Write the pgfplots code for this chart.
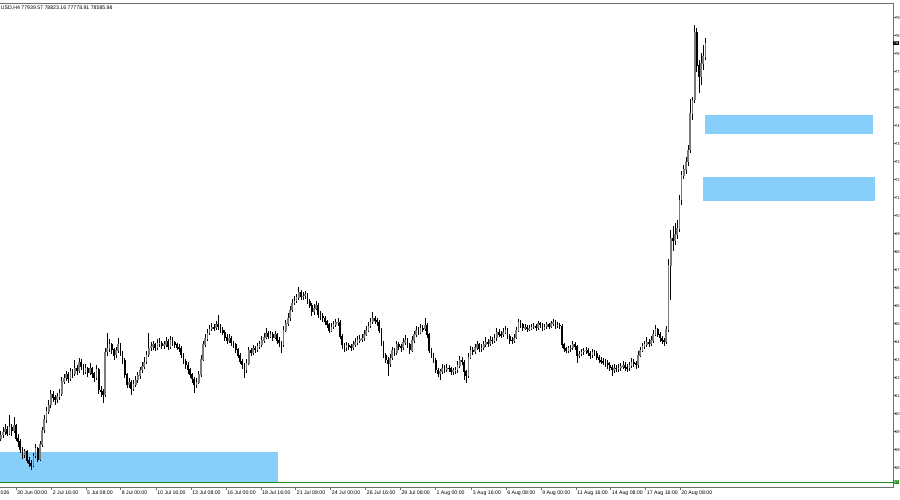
\documentclass[border=0pt]{standalone}
\usepackage{fontspec}
\setmainfont{Liberation Sans}
\usepackage{pgfplots}
\usepackage{pgfplotstable}
\pgfplotsset{compat=1.18}
\definecolor{zone}{HTML}{87CEFA}
\definecolor{lvl}{HTML}{1E8C1E}
\definecolor{frame}{HTML}{6E6E6E}
\definecolor{bull}{HTML}{7A7A7A}
\newcommand{\tf}{\fontsize{3.9}{4.4}\selectfont}
\newcommand{\pf}{\fontsize{3.1}{3.6}\selectfont}

% H4 candles, prices in thousands, i = bar index (0 = 30 Jun 00:00)
\pgfplotstableread{
i o h l c
-7 59.60 59.95 59.45 59.76
-6 59.76 60.15 59.60 59.90
-5 59.90 60.30 59.75 60.05
-4 60.05 60.20 59.70 59.85
-3 59.85 60.72 59.75 60.10
-2 60.10 60.30 59.70 59.95
-1 59.95 60.60 59.85 60.20
0 60.20 60.30 59.45 59.60
1 59.60 59.80 59.20 59.45
2 59.45 59.55 58.90 59.05
3 59.05 59.20 58.60 58.80
4 58.80 59.10 58.65 58.95
5 58.95 59.05 58.40 58.55
6 58.55 58.70 58.20 58.40
7 58.40 58.55 58.08 58.30
8 58.30 58.90 58.20 58.75
9 58.75 59.35 58.65 59.10
10 59.10 59.20 58.45 58.60
11 58.60 59.45 58.50 59.30
12 59.30 60.15 59.20 60.00
13 60.00 60.70 59.85 60.50
14 60.50 61.10 60.35 60.90
15 60.90 61.45 60.75 61.20
16 61.20 61.90 61.05 61.70
17 61.70 61.85 61.35 61.55
18 61.55 61.70 61.20 61.45
19 61.45 61.80 61.30 61.60
20 61.60 61.95 61.45 61.75
21 61.75 62.55 61.65 62.35
22 62.35 62.70 62.20 62.50
23 62.50 62.85 62.35 62.65
24 62.65 62.80 62.25 62.45
25 62.45 63.00 62.35 62.80
26 62.80 62.95 62.50 62.70
27 62.70 63.35 62.60 62.98
28 62.98 63.10 62.65 62.85
29 62.85 63.45 62.75 63.25
30 63.25 63.40 62.90 63.05
31 63.05 63.15 62.65 62.80
32 62.80 63.15 62.70 62.95
33 62.95 63.05 62.55 62.75
34 62.75 63.20 62.65 62.98
35 62.98 63.05 62.50 62.70
36 62.70 62.80 62.30 62.50
37 62.50 63.10 62.40 62.90
38 62.90 63.00 61.75 61.92
39 61.92 62.10 61.60 61.85
40 61.85 61.95 61.30 61.70
41 61.70 63.95 61.60 63.75
42 63.75 64.66 63.55 63.90
43 63.90 64.35 63.75 64.10
44 64.10 64.20 63.65 63.85
45 63.85 63.95 63.35 63.60
46 63.60 64.00 63.45 63.80
47 63.80 64.40 63.70 64.10
48 64.10 64.20 63.55 63.70
49 63.70 63.80 63.15 63.36
50 63.36 63.45 62.50 62.65
51 62.65 62.75 62.00 62.16
52 62.16 62.50 62.00 62.30
53 62.30 62.40 61.70 62.00
54 62.00 62.40 61.85 62.20
55 62.20 62.60 62.05 62.40
56 62.40 62.80 62.25 62.60
57 62.60 63.05 62.45 62.88
58 62.88 63.25 62.75 63.05
59 63.05 63.50 62.95 63.27
60 63.27 63.80 63.15 63.60
61 63.60 64.66 63.50 63.94
62 63.94 64.25 63.80 64.00
63 64.00 64.30 63.85 64.10
64 64.10 64.20 63.80 63.95
65 63.95 64.35 63.85 64.15
66 64.15 64.40 64.00 64.18
67 64.18 64.30 63.90 64.05
68 64.05 64.30 63.90 64.10
69 64.10 64.45 64.00 64.25
70 64.25 64.35 63.85 64.00
71 64.00 64.50 63.90 64.32
72 64.32 64.45 64.05 64.20
73 64.20 64.30 63.95 64.10
74 64.10 64.20 63.85 63.98
75 63.98 64.15 63.75 63.94
76 63.94 64.05 63.45 63.60
77 63.60 63.70 63.15 63.30
78 63.30 63.40 62.95 63.12
79 63.12 63.25 62.70 62.90
80 62.90 63.00 62.50 62.65
81 62.65 62.75 62.25 62.45
82 62.45 62.55 61.80 62.16
83 62.16 62.50 62.00 62.30
84 62.30 62.85 62.20 62.65
85 62.65 63.60 62.55 63.40
86 63.40 64.30 63.30 64.10
87 64.10 64.60 64.00 64.40
88 64.40 64.85 64.30 64.66
89 64.66 65.05 64.55 64.85
90 64.85 65.15 64.75 64.95
91 64.95 65.10 64.75 64.90
92 64.90 65.25 64.80 65.05
93 65.05 65.53 64.80 64.95
94 64.95 65.10 64.65 64.80
95 64.80 64.95 64.55 64.70
96 64.70 64.80 64.30 64.45
97 64.45 64.60 64.15 64.32
98 64.32 64.60 64.20 64.40
99 64.40 64.50 64.05 64.20
100 64.20 64.30 63.95 64.10
101 64.10 64.20 63.70 63.85
102 63.85 63.95 63.45 63.60
103 63.60 63.70 63.15 63.30
104 63.30 63.40 62.95 63.12
105 63.12 63.20 62.50 62.88
106 62.88 63.40 62.75 63.20
107 63.20 64.00 63.10 63.84
108 63.84 63.95 63.55 63.70
109 63.70 64.10 63.60 63.94
110 63.94 64.05 63.70 63.85
111 63.85 64.20 63.75 64.00
112 64.00 64.30 63.90 64.10
113 64.10 64.50 64.00 64.32
114 64.32 64.65 64.20 64.45
115 64.45 64.90 64.35 64.66
116 64.66 64.75 64.35 64.50
117 64.50 64.75 64.40 64.57
118 64.57 64.70 64.30 64.45
119 64.45 64.75 64.35 64.57
120 64.57 64.65 64.15 64.32
121 64.32 64.45 64.00 64.20
122 64.20 64.30 63.70 64.10
123 64.10 65.00 64.00 64.80
124 64.80 65.30 64.70 65.10
125 65.10 65.60 65.00 65.38
126 65.38 65.95 65.25 65.77
127 65.77 66.30 65.65 66.10
128 66.10 66.45 66.00 66.20
129 66.20 66.55 66.10 66.35
130 66.35 66.87 66.25 66.63
131 66.63 66.75 66.25 66.40
132 66.40 66.65 66.25 66.44
133 66.44 66.70 66.30 66.50
134 66.50 66.60 66.05 66.20
135 66.20 66.30 65.85 66.00
136 66.00 66.10 65.50 65.67
137 65.67 66.05 65.55 65.85
138 65.85 66.20 65.75 66.00
139 66.00 66.10 65.40 65.53
140 65.53 65.70 65.30 65.45
141 65.45 65.60 65.20 65.38
142 65.38 65.50 65.05 65.20
143 65.20 65.30 64.90 65.05
144 65.05 65.15 64.65 64.80
145 64.80 65.15 64.70 64.95
146 64.95 65.25 64.85 65.05
147 65.05 65.35 64.95 65.15
148 65.15 65.40 65.00 65.19
149 65.19 65.30 64.35 64.50
150 64.50 64.60 63.90 64.10
151 64.10 64.20 63.75 63.94
152 63.94 64.25 63.80 64.05
153 64.05 64.20 63.85 64.00
154 64.00 64.15 63.80 63.95
155 63.95 64.30 63.85 64.10
156 64.10 64.40 64.00 64.20
157 64.20 64.50 64.10 64.32
158 64.32 64.55 64.20 64.35
159 64.35 64.60 64.25 64.42
160 64.42 64.80 64.30 64.60
161 64.60 65.00 64.50 64.80
162 64.80 65.20 64.70 65.00
163 65.00 65.40 64.90 65.19
164 65.19 65.67 65.10 65.38
165 65.38 65.50 65.10 65.25
166 65.25 65.40 65.00 65.19
167 65.19 65.30 64.65 64.80
168 64.80 64.90 64.05 64.20
169 64.20 64.30 63.45 63.60
170 63.60 63.70 63.20 63.36
171 63.36 63.50 62.60 63.20
172 63.20 63.65 63.05 63.46
173 63.46 64.00 63.35 63.84
174 63.84 63.95 63.55 63.70
175 63.70 64.30 63.60 64.10
176 64.10 64.25 63.85 64.00
177 64.00 64.15 63.75 63.94
178 63.94 64.40 63.85 64.20
179 64.20 64.55 64.10 64.32
180 64.32 64.40 63.95 64.10
181 64.10 64.20 63.65 63.84
182 63.84 64.50 63.75 64.30
183 64.30 64.75 64.20 64.57
184 64.57 65.00 64.45 64.80
185 64.80 64.95 64.55 64.70
186 64.70 65.10 64.60 64.90
187 64.90 65.05 64.70 64.85
188 64.85 65.38 64.75 65.05
189 65.05 65.15 64.40 64.57
190 64.57 64.65 63.70 63.84
191 63.84 63.95 63.45 63.60
192 63.60 63.70 63.20 63.36
193 63.36 63.45 62.75 62.88
194 62.88 63.00 62.55 62.70
195 62.70 62.95 62.40 62.80
196 62.80 63.15 62.70 62.98
197 62.98 63.10 62.75 62.90
198 62.90 63.15 62.80 62.98
199 62.98 63.10 62.80 62.95
200 62.95 63.05 62.65 62.80
201 62.80 63.00 62.65 62.85
202 62.85 63.05 62.70 62.88
203 62.88 63.30 62.75 63.10
204 63.10 63.55 63.00 63.36
205 63.36 63.50 63.10 63.27
206 63.27 63.35 62.40 62.80
207 62.80 62.90 62.26 62.60
208 62.60 63.70 62.50 63.50
209 63.50 64.05 63.40 63.84
210 63.84 64.00 63.60 63.75
211 63.75 64.15 63.65 63.95
212 63.95 64.30 63.85 64.10
213 64.10 64.20 63.75 63.90
214 63.90 64.15 63.75 63.94
215 63.94 64.30 63.85 64.10
216 64.10 64.45 64.00 64.23
217 64.23 64.35 64.00 64.15
218 64.15 64.50 64.05 64.32
219 64.32 64.45 64.15 64.30
220 64.30 64.60 64.20 64.42
221 64.42 64.90 64.30 64.71
222 64.71 64.85 64.45 64.60
223 64.60 64.75 64.40 64.57
224 64.57 64.90 64.45 64.70
225 64.70 65.00 64.60 64.80
226 64.80 64.90 64.35 64.50
227 64.50 64.60 64.15 64.32
228 64.32 64.45 64.15 64.30
229 64.30 64.60 64.20 64.42
230 64.42 64.95 64.35 64.80
231 64.80 65.35 64.70 65.19
232 65.19 65.30 64.90 65.05
233 65.05 65.15 64.75 64.90
234 64.90 65.10 64.80 64.95
235 64.95 65.05 64.70 64.85
236 64.85 65.05 64.75 64.90
237 64.90 65.10 64.80 64.95
238 64.95 65.15 64.85 65.00
239 65.00 65.10 64.75 64.90
240 64.90 65.25 64.80 65.10
241 65.10 65.20 64.90 65.05
242 65.05 65.15 64.75 64.90
243 64.90 65.10 64.80 64.95
244 64.95 65.20 64.85 65.05
245 65.05 65.15 64.85 64.98
246 64.98 65.25 64.90 65.10
247 65.10 65.35 65.00 65.19
248 65.19 65.30 64.85 65.00
249 65.00 65.20 64.90 65.05
250 65.05 65.15 64.85 65.00
251 65.00 65.10 63.95 64.10
252 64.10 64.20 63.75 63.90
253 63.90 64.00 63.70 63.84
254 63.84 64.05 63.70 63.90
255 63.90 64.10 63.75 63.94
256 63.94 64.30 63.85 64.13
257 64.13 64.25 63.85 64.00
258 64.00 64.10 63.20 63.60
259 63.60 63.80 63.45 63.65
260 63.65 63.90 63.55 63.75
261 63.75 63.95 63.60 63.80
262 63.80 64.00 63.65 63.84
263 63.84 63.95 63.55 63.70
264 63.70 63.80 63.40 63.60
265 63.60 63.90 63.45 63.75
266 63.75 63.85 63.55 63.70
267 63.70 63.80 63.35 63.50
268 63.50 63.60 63.20 63.36
269 63.36 63.50 63.15 63.30
270 63.30 63.45 63.10 63.27
271 63.27 63.40 63.05 63.20
272 63.20 63.35 62.95 63.12
273 63.12 63.25 62.85 63.00
274 63.00 63.10 62.60 62.88
275 62.88 63.15 62.75 62.98
276 62.98 63.10 62.80 62.95
277 62.95 63.15 62.80 62.98
278 62.98 63.20 62.85 63.05
279 63.05 63.30 62.95 63.12
280 63.12 63.25 62.85 63.00
281 63.00 63.15 62.80 62.98
282 62.98 63.25 62.85 63.10
283 63.10 63.45 63.00 63.27
284 63.27 63.40 63.05 63.20
285 63.20 63.30 62.95 63.12
286 63.12 63.80 63.00 63.60
287 63.60 64.00 63.50 63.84
288 63.84 64.20 63.75 64.00
289 64.00 64.30 63.90 64.10
290 64.10 64.45 64.00 64.23
291 64.23 64.35 64.00 64.15
292 64.15 64.50 64.05 64.32
293 64.32 64.80 64.20 64.60
294 64.60 65.05 64.50 64.81
295 64.81 64.90 64.45 64.60
296 64.60 64.70 64.25 64.42
297 64.42 64.50 64.15 64.30
298 64.30 64.40 64.05 64.23
299 64.23 65.00 64.15 64.81
300 64.81 68.20 64.70 67.90
301 67.90 69.60 66.25 69.20
302 69.20 69.80 68.60 69.10
303 69.10 69.95 68.90 69.40
304 69.40 70.10 69.20 69.70
305 69.70 71.30 69.50 71.05
306 71.05 72.45 70.81 72.25
307 72.25 72.75 72.05 72.50
308 72.50 73.10 72.30 72.88
309 72.88 73.70 72.70 73.46
310 73.46 75.90 73.30 75.20
311 75.20 76.00 74.90 75.86
312 75.86 79.46 75.70 79.10
313 79.10 79.30 77.20 77.50
314 77.50 77.80 76.20 77.00
315 77.00 78.10 76.60 77.60
316 77.60 78.50 77.30 77.94
317 77.94 78.82 77.78 78.59
}\ohlc

\begin{document}
\begin{tikzpicture}
\begin{axis}[
  scale only axis, width=669.75pt, height=363pt,
  xmin=-7.36, xmax=403.2, ymin=57.26, ymax=80.52,
  clip=false,
  axis line style={draw=none},
  tick align=outside, major tick length=2.2pt,
  tick style={frame, line width=0.5pt},
  xtick pos=left, ytick pos=right, yticklabel pos=right,
  xtick={0,16.4,32.2,48.1,64.4,80.5,96.6,112.6,128.6,144.7,160.8,176.7,192.8,209.5,225.3,241.4,257.5,273.4,289.5,305.3},
  xticklabels={30 Jun 00:00,2 Jul 16:00,5 Jul 08:00,8 Jul 00:00,10 Jul 16:00,13 Jul 08:00,16 Jul 00:00,18 Jul 16:00,21 Jul 08:00,24 Jul 00:00,26 Jul 16:00,29 Jul 08:00,1 Aug 00:00,3 Aug 16:00,6 Aug 08:00,9 Aug 00:00,11 Aug 16:00,14 Aug 08:00,17 Aug 16:00,20 Aug 08:00},
  % the price scale is cut at the window edge: only the first two digits show
  ytick={79.81,78.945,78.08,77.215,76.35,75.485,74.62,73.755,72.89,72.025,71.16,70.295,69.43,68.565,67.7,66.835,65.97,65.105,64.24,63.375,62.51,61.645,60.78,59.915,59.05,58.185},
  yticklabels={79,78,78,77,76,75,74,73,72,72,71,70,69,68,67,66,65,65,64,63,62,61,60,59,59,58},
  xticklabel style={font=\tf, inner sep=0.3pt, anchor=north west, xshift=0.4pt},
  yticklabel style={font=\pf, inner sep=0.2pt, anchor=west, xshift=-1pt},
]
% zones
\addplot[fill=zone, draw=none, forget plot] coordinates {(-7.36,58.94) (120.46,58.94) (120.46,57.45) (-7.36,57.45)} --cycle;
\addplot[fill=zone, draw=none, forget plot] coordinates {(316.8,75.14) (394.0,75.14) (394.0,74.22) (316.8,74.22)} --cycle;
\addplot[fill=zone, draw=none, forget plot] coordinates {(315.9,72.16) (394.9,72.16) (394.9,71.00) (315.9,71.00)} --cycle;
% level line
\addplot[lvl, line width=0.75pt, forget plot] coordinates {(-7.36,57.5) (403.2,57.5)};
% wicks
\addplot[draw=none, mark=none, forget plot,
  error bars/.cd, y dir=both, y explicit, error mark=none,
  error bar style={draw=black, line width=0.5pt}]
  table[x=i, y expr={(\thisrow{h}+\thisrow{l})/2}, y error expr={(\thisrow{h}-\thisrow{l})/2}] {\ohlc};
% bull bodies
\addplot[draw=none, mark=none, forget plot, restrict y to domain=50:100,
  error bars/.cd, y dir=both, y explicit, error mark=none,
  error bar style={draw=bull, line width=1.3pt}]
  table[x=i, y expr={\thisrow{c}<\thisrow{o} ? -100 : (\thisrow{o}+\thisrow{c})/2}, y error expr={abs(\thisrow{c}-\thisrow{o})/2+0.02}] {\ohlc};
% bear bodies
\addplot[draw=none, mark=none, forget plot, restrict y to domain=50:100,
  error bars/.cd, y dir=both, y explicit, error mark=none,
  error bar style={draw=black, line width=1.3pt}]
  table[x=i, y expr={\thisrow{c}<\thisrow{o} ? (\thisrow{o}+\thisrow{c})/2 : -100}, y error expr={abs(\thisrow{c}-\thisrow{o})/2+0.02}] {\ohlc};
% frame
\draw[frame, line width=0.6pt] (rel axis cs:0,1) -- (rel axis cs:1,1) -- (rel axis cs:1,0) -- (rel axis cs:0,0);
% header and price labels
\node[anchor=north west, font=\tf, inner sep=0pt] at ([xshift=0.5pt,yshift=-1.6pt]rel axis cs:0,1) {USD,H4 77939.57 78823.16 77778.91 78585.98};
\node[anchor=west, fill=black, text=white, font=\pf, inner sep=0.5pt] at (axis cs:403.2,78.586) {78};
\node[anchor=west, fill=lvl, text=white, font=\pf, inner sep=0.5pt] at (axis cs:403.2,57.5) {57};
\end{axis}
\node[anchor=north west, font=\tf, inner sep=0.3pt] at (0pt,-2.4pt) {026};
\pgfresetboundingbox
\useasboundingbox (0,-9.75pt) rectangle (675pt,365.25pt);
\end{tikzpicture}
\end{document}
